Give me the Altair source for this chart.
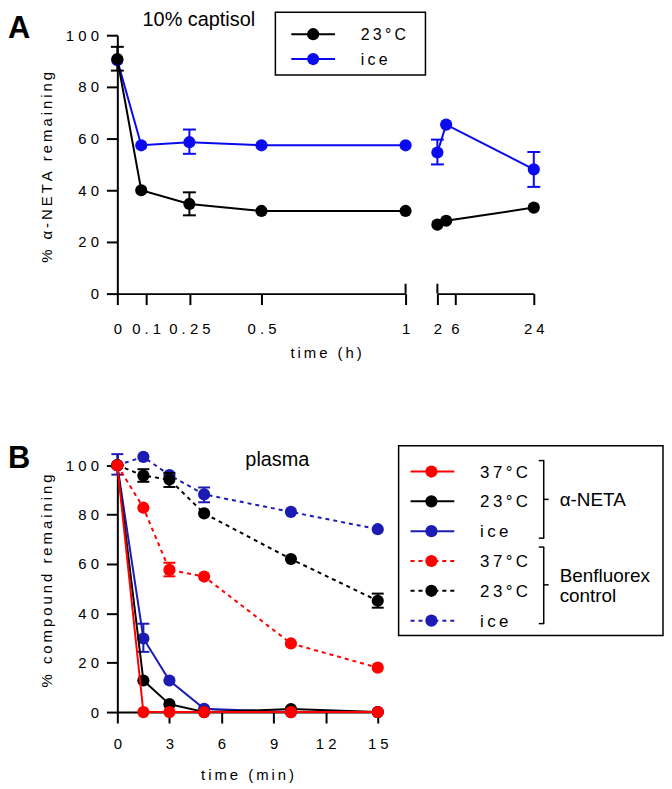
import altair as alt
import pandas as pd

FONT = "Liberation Sans"
THIN = "\u2009"

BLACK = "#000000"
RED = "#ff0000"
BLUE_A = "#0a0af0"
BLUE_B = "#1c1cb4"

# ---------------- Panel A data (10% captisol), time in h ----------------
A_T_EARLY = [0, 0.083, 0.25, 0.5, 1]
A_T_LATE = [2, 4, 24]
A_RT_EARLY = [90.8, 40.0, 34.7, 32.0, 32.0]
A_RT_LATE = [26.7, 28.2, 33.3]
A_ICE_EARLY = [90.3, 57.4, 58.6, 57.4, 57.4]
A_ICE_LATE = [54.6, 65.4, 48.1]
A_ERR_SERIES = ["23", "23", "ice", "ice", "ice"]
A_ERR_T = [0, 0.25, 0.25, 2, 24]
A_ERR_LO = [86.3, 30.3, 54.1, 50.0, 41.3]
A_ERR_HI = [95.5, 39.2, 63.5, 59.6, 54.8]
A_Y_TICKS = [0, 20, 40, 60, 80, 100]
A_X_TICKS_EARLY = [0, 0.1, 0.25, 0.5, 1]
A_X_TICKS_LATE = [2, 6, 24]

# ---------------- Panel B data (plasma), time in min ----------------
B_T = [0, 1.5, 3, 5, 10, 15]
B_NETA_37 = [100, 0, 0, 0, 0, 0]
B_NETA_23 = [100, 12.8, 3.2, 0, 1.2, 0]
B_NETA_ICE = [100, 29.8, 12.8, 1.3, 0, 0]
B_BENF_37 = [100, 82.8, 57.6, 54.9, 27.8, 18.0]
B_BENF_23 = [100, 95.8, 94.2, 80.5, 62.0, 45.1]
B_BENF_ICE = [100, 103.4, 96.0, 88.2, 81.1, 74.1]
B_ERR_SERIES = ["benf_ice", "benf_23", "benf_23", "benf_ice", "benf_23", "benf_37", "neta_ice"]
B_ERR_T = [0, 1.5, 3, 5, 15, 3, 1.5]
B_ERR_LO = [96.2, 93.3, 91.2, 85.0, 42.3, 55.0, 24.4]
B_ERR_HI = [104.5, 98.4, 96.9, 91.0, 48.0, 60.5, 35.8]
B_Y_TICKS = [0, 20, 40, 60, 80, 100]
B_X_TICKS = [0, 3, 6, 9, 12, 15]

# ---------------- layout ----------------
A_W, A_H = 290, 260
AR_W = 97
COL_GAP = 32
B_W, B_H = 262, 260
ROW_GAP = 161
DOT = 150


def sp(s, sep=THIN):
    return sep.join(list(s))


SPACED_LABEL = "join(split(toString(datum.value), ''), ' ')"


def axis(values, **kw):
    base = dict(values=values, domainColor="black", domainWidth=2, tickColor="black",
                tickWidth=2, tickSize=11, labelFont=FONT, labelFontSize=15,
                labelColor="black", grid=False, title=None, labelOverlap=False,
                labelFlush=False, labelExpr=SPACED_LABEL)
    base.update(kw)
    return alt.Axis(**base)


DUMMY = pd.DataFrame({"d": [0]})


def text(s, x, y, size=15, angle=0, align="center", baseline="middle", weight="normal"):
    kw = dict(font=FONT, fontSize=size, align=align, baseline=baseline,
              fontWeight=weight, color="black")
    if angle:
        kw["angle"] = angle
    return alt.Chart(DUMMY).mark_text(**kw).encode(
        x=alt.value(x), y=alt.value(y), text=alt.value(s))


def hrule(x1, x2, y, color="black", width=2, dash=None):
    kw = dict(color=color, strokeWidth=width)
    if dash:
        kw["strokeDash"] = dash
    return alt.Chart(DUMMY).mark_rule(**kw).encode(
        x=alt.value(x1), x2=alt.value(x2), y=alt.value(y))


def vrule(x, y1, y2, color="black", width=1.5):
    return alt.Chart(DUMMY).mark_rule(color=color, strokeWidth=width).encode(
        x=alt.value(x), y=alt.value(y1), y2=alt.value(y2))


def dot(x, y, color):
    return alt.Chart(DUMMY).mark_circle(color=color, size=DOT, opacity=1).encode(
        x=alt.value(x), y=alt.value(y))


def box(x1, x2, y1, y2):
    return alt.Chart(DUMMY).mark_rect(fillOpacity=0, stroke="black", strokeWidth=1.5).encode(
        x=alt.value(x1), x2=alt.value(x2), y=alt.value(y1), y2=alt.value(y2))


def series(t, v, X, Y, color, dash=None):
    df = pd.DataFrame({"t": t, "v": v})
    kw = dict(color=color, strokeWidth=2)
    if dash:
        kw["strokeDash"] = dash
    base = alt.Chart(df)
    return [base.mark_line(**kw).encode(x=X("t"), y=Y("v")),
            base.mark_circle(color=color, size=DOT, opacity=1).encode(x=X("t"), y=Y("v"))]


def errors(df, X, Y, color, cap=13):
    base = alt.Chart(df)
    return [base.mark_rule(color=color, strokeWidth=2).encode(x=X("t"), y=Y("lo"), y2="hi:Q"),
            base.mark_tick(color=color, orient="horizontal", size=cap, thickness=2,
                           opacity=1).encode(x=X("t"), y=Y("lo")),
            base.mark_tick(color=color, orient="horizontal", size=cap, thickness=2,
                           opacity=1).encode(x=X("t"), y=Y("hi"))]


# ---------------- Panel A ----------------
a_err = pd.DataFrame({"s": A_ERR_SERIES, "t": A_ERR_T, "lo": A_ERR_LO, "hi": A_ERR_HI})
yA_scale = alt.Scale(domain=[0, 100], nice=False, zero=True, padding=0)
yA_axis = axis(A_Y_TICKS, labelPadding=8)


def XA(f):
    return alt.X(f"{f}:Q", scale=alt.Scale(domain=[0, 1], nice=False, zero=False, padding=0),
                 axis=axis(A_X_TICKS_EARLY, labelPadding=17))


def YA(f):
    return alt.Y(f"{f}:Q", scale=yA_scale, axis=yA_axis)


def XAR(f):
    return alt.X(f"{f}:Q", scale=alt.Scale(domain=[2, 24], nice=False, zero=False, padding=0),
                 axis=axis(A_X_TICKS_LATE, labelPadding=17))


def YAR(f):
    return alt.Y(f"{f}:Q", scale=yA_scale, axis=None)


a_left_layers = (
    errors(a_err[(a_err.s == "ice") & (a_err.t <= 1)], XA, YA, BLUE_A)
    + series(A_T_EARLY, A_ICE_EARLY, XA, YA, BLUE_A)
    + errors(a_err[(a_err.s == "23") & (a_err.t <= 1)], XA, YA, BLACK)
    + series(A_T_EARLY, A_RT_EARLY, XA, YA, BLACK)
    + [alt.Chart(pd.DataFrame({"c": [1]})).mark_rule(color="black", strokeWidth=2).encode(
        x=XA("c"), y=alt.value(A_H - 10), y2=alt.value(A_H))]
    + [text("A", -110, -21, size=31, align="left", baseline="top", weight="bold"),
       text("10% captisol", 82, -15, size=20),
       box(159, 310, -23, 40),
       hrule(175, 219, -1, BLACK), dot(197, -1, BLACK), text(sp("23°C"), 245, 0, 16, align="left"),
       hrule(175, 219, 24, BLUE_A), dot(197, 24, BLUE_A), text(sp("ice"), 245, 25, 16, align="left"),
       text(sp("time (h)"), 210, 320, 15),
       text(sp("% α-NETA remaining"), -71, 133, 15, angle=270)]
)
a_left = alt.layer(*a_left_layers).properties(width=A_W, height=A_H)

a_right_layers = (
    errors(a_err[(a_err.s == "ice") & (a_err.t >= 2)], XAR, YAR, BLUE_A)
    + series(A_T_LATE, A_ICE_LATE, XAR, YAR, BLUE_A)
    + series(A_T_LATE, A_RT_LATE, XAR, YAR, BLACK)
    + [alt.Chart(pd.DataFrame({"c": [2]})).mark_rule(color="black", strokeWidth=2).encode(
        x=XAR("c"), y=alt.value(A_H - 10), y2=alt.value(A_H))]
)
a_right = alt.layer(*a_right_layers).properties(width=AR_W, height=A_H)

# ---------------- Panel B ----------------
b_err = pd.DataFrame({"s": B_ERR_SERIES, "t": B_ERR_T, "lo": B_ERR_LO, "hi": B_ERR_HI})


def XB(f):
    return alt.X(f"{f}:Q", scale=alt.Scale(domain=[0, 15], nice=False, zero=True, padding=0),
                 axis=axis(B_X_TICKS, labelPadding=14))


def YB(f):
    return alt.Y(f"{f}:Q", scale=alt.Scale(domain=[0, 104.7], nice=False, zero=True, padding=0),
                 axis=axis(B_Y_TICKS, labelPadding=8))


DASH = [4, 4]
b_series = [
    ("benf_ice", B_BENF_ICE, BLUE_B, DASH),
    ("benf_23", B_BENF_23, BLACK, DASH),
    ("benf_37", B_BENF_37, RED, DASH),
    ("neta_ice", B_NETA_ICE, BLUE_B, None),
    ("neta_23", B_NETA_23, BLACK, None),
    ("neta_37", B_NETA_37, RED, None),
]
b_layers = []
for key, vals, col, dsh in b_series:
    sub = b_err[b_err.s == key]
    if len(sub):
        b_layers += errors(sub, XB, YB, col, cap=12)
    b_layers += series(B_T, vals, XB, YB, col, dsh)

legend_rows = [
    (RED, None, "37°C"), (BLACK, None, "23°C"), (BLUE_B, None, "ice"),
    (RED, DASH, "37°C"), (BLACK, DASH, "23°C"), (BLUE_B, DASH, "ice"),
]
b_layers += [text("B", -110, -10, size=31, align="left", baseline="top", weight="bold"),
             text("plasma", 161, 6, size=20),
             box(283, 549, -8, 183)]
for i, (col, dsh, lab) in enumerate(legend_rows):
    yy = 18 + 30 * i
    b_layers += [hrule(295, 339, yy, col, 2, dsh), dot(316, yy, col),
                 text(sp(lab), 365, yy + 1, 17, align="left")]
# brackets
for (y1, y2, ym) in [(7, 85, 46), (94, 171, 132)]:
    b_layers += [vrule(429, y1, y2), hrule(424, 429.5, y1, width=1.5),
                 hrule(424, 429.5, y2, width=1.5), hrule(429, 434, ym, width=1.5)]
b_layers += [text("α-NETA", 445, 47, 19, align="left"),
             text("Benfluorex", 445, 123, 19, align="left"),
             text("control", 445, 143, 19, align="left"),
             text(sp("time (min)"), 131, 323, 15),
             text(sp("% compound remaining"), -71, 128, 15, angle=270)]
b_chart = alt.layer(*b_layers).properties(width=B_W, height=B_H)

chart = alt.concat(a_left, a_right, b_chart, columns=2,
                   spacing={"row": ROW_GAP, "column": COL_GAP},
                   bounds="flush").properties(padding=0).configure_view(stroke=None)

chart.save("out.html", embed_options={"renderer": "svg", "actions": False})
